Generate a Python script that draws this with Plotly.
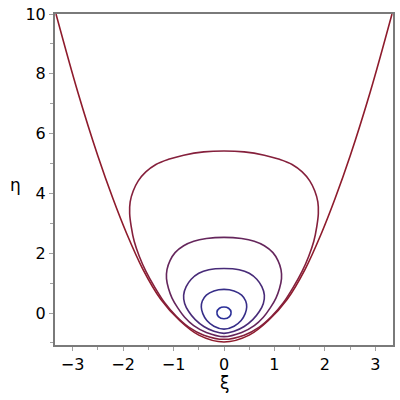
import plotly.graph_objects as go

# curves (xi, eta)
outer_xi = [-3.33, -2.9, -2.5, -2.2, -1.93, -1.61, -1.25, -0.88, -0.5, 0, 0.5, 0.88, 1.25, 1.61, 1.93, 2.2, 2.5, 2.9, 3.33]
outer_eta = [10, 7.4, 5.25, 3.82, 2.66, 1.47, 0.45, -0.25, -0.74, -0.97, -0.74, -0.25, 0.45, 1.47, 2.66, 3.82, 5.25, 7.4, 10]

loopA_xi = [0, 0.4, 0.8, 1.1, 1.35, 1.55, 1.7, 1.8, 1.86, 1.87, 1.84, 1.78, 1.68, 1.55, 1.38, 1.18, 0.95, 0.7, 0.4, 0,
            -0.4, -0.7, -0.95, -1.18, -1.38, -1.55, -1.68, -1.78, -1.84, -1.87, -1.86, -1.8, -1.7, -1.55, -1.35, -1.1, -0.8, -0.4, 0]
loopA_eta = [5.42, 5.39, 5.28, 5.14, 4.97, 4.72, 4.42, 4.08, 3.72, 3.33, 2.9, 2.4, 1.9, 1.4, 0.88, 0.35, -0.1, -0.47, -0.74, -0.88,
             -0.74, -0.47, -0.1, 0.35, 0.88, 1.4, 1.9, 2.4, 2.9, 3.33, 3.72, 4.08, 4.42, 4.72, 4.97, 5.14, 5.28, 5.39, 5.42]

loopB_xi = [0, 0.35, 0.6, 0.8, 0.97, 1.07, 1.13, 1.14, 1.1, 1.03, 0.92, 0.78, 0.6, 0.35, 0,
            -0.35, -0.6, -0.78, -0.92, -1.03, -1.1, -1.14, -1.13, -1.07, -0.97, -0.8, -0.6, -0.35, 0]
loopB_eta = [2.53, 2.49, 2.4, 2.25, 2.02, 1.75, 1.45, 1.15, 0.82, 0.5, 0.18, -0.14, -0.42, -0.65, -0.79,
             -0.65, -0.42, -0.14, 0.18, 0.5, 0.82, 1.15, 1.45, 1.75, 2.02, 2.25, 2.4, 2.49, 2.53]

loopC_xi = [0, 0.3, 0.5, 0.65, 0.75, 0.8, 0.78, 0.7, 0.57, 0.4, 0.2, 0,
            -0.2, -0.4, -0.57, -0.7, -0.78, -0.8, -0.75, -0.65, -0.5, -0.3, 0]
loopC_eta = [1.49, 1.45, 1.33, 1.13, 0.88, 0.6, 0.32, 0.05, -0.22, -0.45, -0.61, -0.68,
             -0.61, -0.45, -0.22, 0.05, 0.32, 0.6, 0.88, 1.13, 1.33, 1.45, 1.49]

loopD_xi = [0, 0.2, 0.35, 0.43, 0.45, 0.42, 0.34, 0.2, 0, -0.2, -0.34, -0.42, -0.45, -0.43, -0.35, -0.2, 0]
loopD_eta = [0.79, 0.74, 0.6, 0.4, 0.2, -0.02, -0.25, -0.44, -0.54, -0.44, -0.25, -0.02, 0.2, 0.4, 0.6, 0.74, 0.79]

loopE_xi = [0, 0.09, 0.14, 0.11, 0, -0.11, -0.14, -0.09, 0]
loopE_eta = [0.2, 0.16, 0.03, -0.12, -0.19, -0.12, 0.03, 0.16, 0.2]

curves = [
    (outer_xi, outer_eta, "#8e1b2c"),
    (loopA_xi, loopA_eta, "#85203c"),
    (loopB_xi, loopB_eta, "#65265c"),
    (loopC_xi, loopC_eta, "#482b78"),
    (loopD_xi, loopD_eta, "#372e88"),
    (loopE_xi, loopE_eta, "#2b2f98"),
]

fig = go.Figure()
for xs, ys, col in curves:
    fig.add_trace(go.Scatter(x=xs, y=ys, mode="lines",
                             line=dict(color=col, width=1.6, shape="spline", smoothing=1.0),
                             hoverinfo="skip"))

axis_common = dict(
    showline=True, linecolor="#7a7a7a", linewidth=2, mirror=True,
    ticks="outside", ticklen=4, tickcolor="#a0a0a0", tickwidth=1,
    showgrid=False, zeroline=False, automargin=False,
    tickfont=dict(family="DejaVu Sans", size=16, color="black"),
)

fig.update_layout(
    width=400, height=400,
    margin=dict(l=55, r=7, t=14, b=55),
    paper_bgcolor="white", plot_bgcolor="white",
    showlegend=False,
    xaxis=dict(range=[-3.35, 3.35], dtick=1, tick0=0,
               minor=dict(ticks="outside", dtick=0.5, ticklen=3, tickcolor="#a0a0a0"),
               **axis_common),
    yaxis=dict(range=[-1.07, 10.002], dtick=2, tick0=0,
               minor=dict(ticks="outside", dtick=1, ticklen=3, tickcolor="#a0a0a0"),
               **axis_common),
    annotations=[
        dict(text="η", x=-0.118, y=0.483, xref="paper", yref="paper", showarrow=False,
             xanchor="center", yanchor="middle",
             font=dict(family="DejaVu Sans", size=17, color="black")),
        dict(text="ξ", x=0.5, y=-0.115, xref="paper", yref="paper", showarrow=False,
             xanchor="center", yanchor="middle",
             font=dict(family="DejaVu Sans", size=17, color="black")),
    ],
)

# drop the default 8px page margin so the 400x400 figure fills the window
fig.write_html("out.html", config={"displayModeBar": False},
               post_script="document.body.style.margin='0px';")
